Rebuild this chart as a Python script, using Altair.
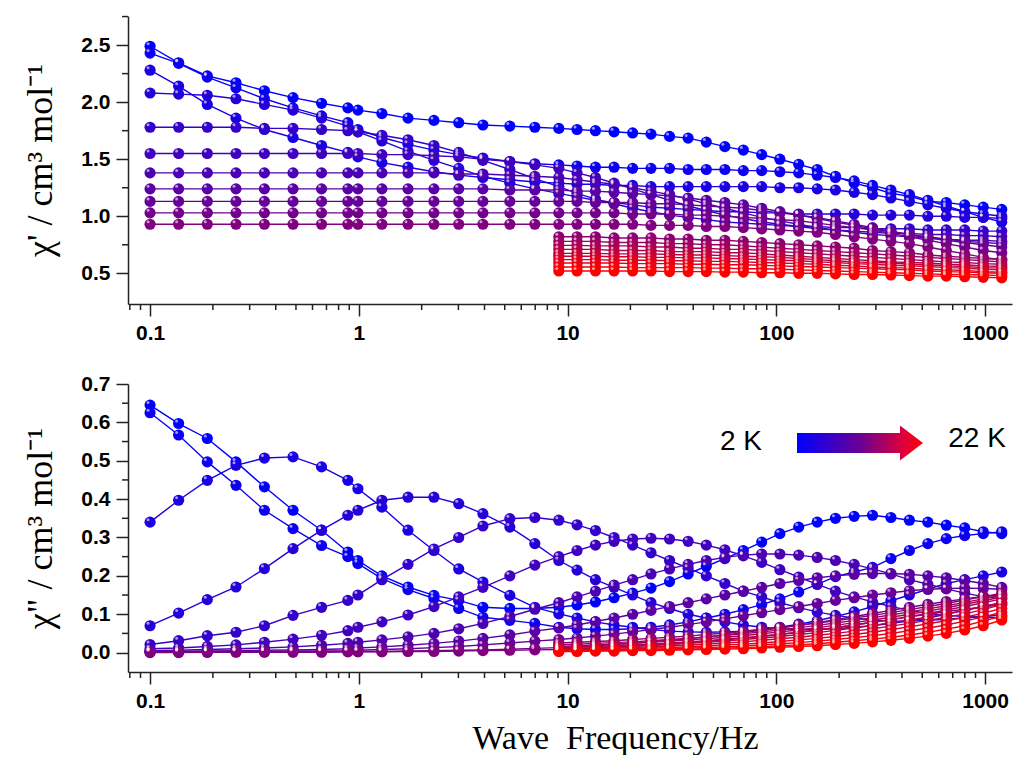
import altair as alt
import pandas as pd

# ---------------- data ----------------
FREQ_ALL = [0.1, 0.137, 0.188, 0.258, 0.353, 0.484, 0.663, 0.886,
            0.99, 1.29, 1.72, 2.29, 3.01, 3.93, 5.29, 6.97,
            9.08, 11.1, 13.6, 16.7, 20.5, 25.1, 30.8, 37.8, 46.2, 56.7,
            69.5, 85.1, 104, 128, 157, 192, 236, 289, 354, 434,
            532, 652, 799, 980, 1202]
FREQ_HIGH = [9.08, 11.1, 13.6, 16.7, 20.5, 25.1, 30.8, 37.8, 46.2, 56.7,
             69.5, 85.1, 104, 128, 157, 192, 236, 289, 354, 434,
             532, 652, 799, 980, 1202]

TEMPS_K = [2, 3, 4, 5, 6, 7, 8, 9, 10, 11, 12, 13, 14, 15, 16, 17, 18, 19, 20, 21, 22]

# chi' (cm3 mol-1)
chi1_02K = [2.49, 2.345, 2.23, 2.17, 2.10, 2.04, 1.99, 1.95,
            1.93, 1.90, 1.86, 1.84, 1.82, 1.80, 1.79, 1.78,
            1.77, 1.76, 1.75, 1.74, 1.73, 1.72, 1.70, 1.685, 1.65, 1.61, 1.58, 1.54, 1.50,
            1.455, 1.41, 1.35, 1.29, 1.25, 1.20, 1.175, 1.13, 1.12, 1.10, 1.08, 1.06]
chi1_03K = [2.43, 2.34, 2.22, 2.125, 2.03, 1.95, 1.88, 1.82,
            1.76, 1.69, 1.63, 1.58, 1.54, 1.51, 1.48, 1.46,
            1.45, 1.44, 1.43, 1.43, 1.42, 1.42, 1.42, 1.41, 1.41, 1.41, 1.40, 1.40, 1.39,
            1.38, 1.36, 1.34, 1.31, 1.27, 1.23, 1.19, 1.14, 1.09, 1.04, 0.99, 0.95]
chi1_04K = [2.28, 2.14, 1.98, 1.86, 1.76, 1.69, 1.62, 1.56,
            1.52, 1.47, 1.43, 1.39, 1.36, 1.34, 1.32, 1.30,
            1.29, 1.28, 1.28, 1.27, 1.27, 1.26, 1.26, 1.26, 1.26, 1.26, 1.26, 1.26, 1.25,
            1.25, 1.24, 1.23, 1.21, 1.19, 1.16, 1.13, 1.10, 1.07, 1.04, 1.02, 1.00]
chi1_05K = [2.08, 2.07, 2.06, 2.03, 1.98, 1.93, 1.86, 1.79,
            1.74, 1.66, 1.57, 1.49, 1.42, 1.35, 1.29, 1.24,
            1.20, 1.17, 1.14, 1.12, 1.10, 1.08, 1.07, 1.06, 1.05, 1.04, 1.04, 1.03, 1.03,
            1.02, 1.02, 1.02, 1.02, 1.01, 1.01, 1.01, 1.00, 1.00, 0.99, 0.99, 0.98]
chi1_06K = [1.78, 1.78, 1.78, 1.78, 1.77, 1.77, 1.76, 1.75,
            1.74, 1.71, 1.67, 1.62, 1.56, 1.49, 1.41, 1.33,
            1.26, 1.20, 1.15, 1.11, 1.07, 1.04, 1.01, 0.99, 0.97, 0.95, 0.94, 0.93, 0.92,
            0.91, 0.91, 0.90, 0.90, 0.89, 0.89, 0.89, 0.88, 0.88, 0.88, 0.87, 0.87]
chi1_07K = [1.55, 1.55, 1.55, 1.55, 1.55, 1.55, 1.55, 1.55,
            1.55, 1.54, 1.54, 1.53, 1.52, 1.50, 1.48, 1.45,
            1.42, 1.38, 1.34, 1.29, 1.24, 1.19, 1.14, 1.09, 1.05, 1.01, 0.98, 0.95, 0.93,
            0.91, 0.89, 0.88, 0.87, 0.86, 0.85, 0.85, 0.84, 0.84, 0.83, 0.83, 0.82]
chi1_08K = [1.38, 1.38, 1.38, 1.38, 1.38, 1.38, 1.38, 1.38,
            1.38, 1.38, 1.38, 1.38, 1.37, 1.37, 1.36, 1.35,
            1.34, 1.32, 1.30, 1.28, 1.25, 1.22, 1.19, 1.15, 1.11, 1.07, 1.03, 0.99, 0.96,
            0.93, 0.90, 0.88, 0.86, 0.84, 0.83, 0.82, 0.81, 0.80, 0.79, 0.79, 0.78]
chi1_09K = [1.24, 1.24, 1.24, 1.24, 1.24, 1.24, 1.24, 1.24,
            1.24, 1.24, 1.24, 1.24, 1.24, 1.24, 1.23, 1.23,
            1.23, 1.22, 1.22, 1.21, 1.20, 1.19, 1.18, 1.16, 1.14, 1.12, 1.10, 1.07, 1.04,
            1.01, 0.98, 0.95, 0.92, 0.89, 0.86, 0.84, 0.82, 0.80, 0.78, 0.77, 0.76]
chi1_10K = [1.13, 1.13, 1.13, 1.13, 1.13, 1.13, 1.13, 1.13,
            1.13, 1.13, 1.13, 1.13, 1.13, 1.13, 1.13, 1.13,
            1.13, 1.13, 1.12, 1.12, 1.12, 1.11, 1.11, 1.10, 1.09, 1.08, 1.07, 1.05, 1.03,
            1.01, 0.99, 0.96, 0.93, 0.90, 0.87, 0.84, 0.81, 0.79, 0.77, 0.75, 0.73]
chi1_11K = [1.03, 1.03, 1.03, 1.03, 1.03, 1.03, 1.03, 1.03,
            1.03, 1.03, 1.03, 1.03, 1.03, 1.03, 1.03, 1.03,
            1.03, 1.03, 1.03, 1.03, 1.02, 1.02, 1.02, 1.01, 1.01, 1.00, 0.99, 0.98, 0.97,
            0.96, 0.94, 0.92, 0.90, 0.88, 0.85, 0.82, 0.79, 0.76, 0.73, 0.70, 0.68]
chi1_12K = [0.93, 0.93, 0.93, 0.93, 0.93, 0.93, 0.93, 0.93,
            0.93, 0.93, 0.93, 0.93, 0.93, 0.93, 0.93, 0.93,
            0.93, 0.93, 0.93, 0.93, 0.93, 0.92, 0.92, 0.92, 0.91, 0.91, 0.90, 0.89, 0.88,
            0.87, 0.86, 0.84, 0.82, 0.80, 0.78, 0.76, 0.73, 0.70, 0.67, 0.64, 0.62]
chi1_13K = [0.82, 0.82, 0.82, 0.81, 0.81, 0.81, 0.80, 0.80, 0.79, 0.79, 0.78, 0.77, 0.76,
            0.75, 0.74, 0.73, 0.72, 0.70, 0.69, 0.68, 0.66, 0.65, 0.64, 0.63, 0.62]
chi1_14K = [0.78, 0.78, 0.78, 0.77, 0.77, 0.77, 0.76, 0.76, 0.75, 0.75, 0.74, 0.73, 0.72,
            0.71, 0.70, 0.69, 0.68, 0.67, 0.66, 0.65, 0.64, 0.63, 0.62, 0.61, 0.60]
chi1_15K = [0.745, 0.745, 0.74, 0.74, 0.74, 0.73, 0.73, 0.72, 0.72, 0.71, 0.71, 0.70, 0.69,
            0.68, 0.67, 0.66, 0.65, 0.64, 0.63, 0.62, 0.61, 0.60, 0.595, 0.585, 0.58]
chi1_16K = [0.71, 0.71, 0.71, 0.70, 0.70, 0.70, 0.69, 0.69, 0.69, 0.68, 0.68, 0.67, 0.66,
            0.65, 0.64, 0.63, 0.62, 0.61, 0.60, 0.595, 0.59, 0.58, 0.575, 0.565, 0.56]
chi1_17K = [0.675, 0.675, 0.675, 0.67, 0.67, 0.67, 0.665, 0.66, 0.66, 0.655, 0.65, 0.645, 0.64,
            0.63, 0.62, 0.61, 0.60, 0.595, 0.59, 0.58, 0.575, 0.565, 0.56, 0.55, 0.545]
chi1_18K = [0.65, 0.65, 0.65, 0.645, 0.645, 0.64, 0.64, 0.635, 0.635, 0.63, 0.625, 0.62, 0.615,
            0.61, 0.60, 0.595, 0.585, 0.58, 0.57, 0.565, 0.56, 0.55, 0.545, 0.535, 0.53]
chi1_19K = [0.62, 0.62, 0.62, 0.615, 0.615, 0.615, 0.61, 0.61, 0.605, 0.605, 0.60, 0.595, 0.59,
            0.585, 0.58, 0.57, 0.565, 0.555, 0.55, 0.545, 0.535, 0.53, 0.525, 0.515, 0.51]
chi1_20K = [0.59, 0.59, 0.59, 0.59, 0.585, 0.585, 0.585, 0.58, 0.58, 0.575, 0.575, 0.57, 0.565,
            0.56, 0.555, 0.55, 0.545, 0.54, 0.535, 0.53, 0.52, 0.515, 0.51, 0.505, 0.50]
chi1_21K = [0.555, 0.555, 0.555, 0.555, 0.55, 0.55, 0.55, 0.55, 0.545, 0.545, 0.54, 0.54, 0.535,
            0.53, 0.525, 0.52, 0.515, 0.51, 0.505, 0.50, 0.495, 0.49, 0.49, 0.485, 0.48]
chi1_22K = [0.52, 0.52, 0.52, 0.52, 0.52, 0.52, 0.515, 0.515, 0.515, 0.51, 0.51, 0.505, 0.505,
            0.50, 0.50, 0.495, 0.49, 0.49, 0.485, 0.48, 0.475, 0.475, 0.47, 0.465, 0.46]

# chi'' (cm3 mol-1)
chi2_02K = [0.645, 0.597, 0.558, 0.497, 0.432, 0.371, 0.319, 0.262,
            0.24, 0.20, 0.171, 0.149, 0.136, 0.118, 0.115, 0.115,
            0.118, 0.124, 0.132, 0.143, 0.155, 0.168, 0.185, 0.205, 0.225, 0.245, 0.266, 0.288, 0.31,
            0.327, 0.34, 0.35, 0.355, 0.358, 0.352, 0.345, 0.34, 0.332, 0.325, 0.315, 0.31]
chi2_03K = [0.625, 0.567, 0.497, 0.436, 0.371, 0.323, 0.279, 0.25,
            0.232, 0.193, 0.164, 0.141, 0.115, 0.092, 0.084, 0.076,
            0.066, 0.062, 0.06, 0.06, 0.062, 0.066, 0.072, 0.08, 0.09, 0.10, 0.112, 0.125, 0.14,
            0.158, 0.178, 0.198, 0.21, 0.222, 0.245, 0.266, 0.284, 0.297, 0.305, 0.31, 0.315]
chi2_04K = [0.34, 0.397, 0.449, 0.488, 0.507, 0.51, 0.484, 0.449,
            0.427, 0.379, 0.319, 0.266, 0.218, 0.184, 0.149, 0.118,
            0.101, 0.09, 0.08, 0.072, 0.066, 0.06, 0.056, 0.054, 0.053, 0.054, 0.056, 0.06, 0.066,
            0.074, 0.083, 0.094, 0.106, 0.12, 0.135, 0.15, 0.165, 0.18, 0.19, 0.2, 0.21]
chi2_05K = [0.07, 0.103, 0.138, 0.171, 0.219, 0.271, 0.319, 0.358,
            0.371, 0.397, 0.405, 0.405, 0.388, 0.362, 0.327, 0.284,
            0.24, 0.215, 0.19, 0.17, 0.15, 0.13, 0.115, 0.10, 0.09, 0.08, 0.072, 0.066, 0.062,
            0.06, 0.06, 0.062, 0.066, 0.07, 0.076, 0.082, 0.09, 0.10, 0.11, 0.12, 0.13]
chi2_06K = [0.021, 0.031, 0.044, 0.053, 0.070, 0.097, 0.118, 0.136,
            0.15, 0.19, 0.23, 0.27, 0.30, 0.33, 0.349, 0.352,
            0.345, 0.333, 0.318, 0.30, 0.28, 0.26, 0.24, 0.22, 0.20, 0.18, 0.16, 0.145, 0.13,
            0.117, 0.106, 0.097, 0.09, 0.085, 0.082, 0.082, 0.084, 0.087, 0.09, 0.094, 0.098]
chi2_07K = [0.01, 0.012, 0.016, 0.02, 0.027, 0.035, 0.045, 0.057,
            0.066, 0.08, 0.098, 0.12, 0.145, 0.17, 0.2, 0.228,
            0.25, 0.266, 0.28, 0.29, 0.296, 0.298, 0.296, 0.29, 0.28, 0.268, 0.252, 0.235, 0.216,
            0.197, 0.178, 0.16, 0.145, 0.132, 0.12, 0.11, 0.102, 0.097, 0.094, 0.092, 0.09]
chi2_08K = [0.005, 0.006, 0.008, 0.01, 0.012, 0.015, 0.019, 0.024,
            0.027, 0.033, 0.041, 0.05, 0.062, 0.076, 0.094, 0.113,
            0.13, 0.145, 0.16, 0.176, 0.19, 0.205, 0.218, 0.23, 0.24, 0.248, 0.254, 0.257, 0.257,
            0.254, 0.248, 0.24, 0.23, 0.218, 0.205, 0.19, 0.178, 0.166, 0.155, 0.146, 0.14]
chi2_09K = [0.003, 0.003, 0.004, 0.005, 0.006, 0.007, 0.008, 0.01,
            0.012, 0.015, 0.019, 0.024, 0.03, 0.037, 0.046, 0.056,
            0.064, 0.072, 0.081, 0.09, 0.1, 0.11, 0.12, 0.13, 0.14, 0.15, 0.16, 0.17, 0.18,
            0.188, 0.195, 0.2, 0.204, 0.206, 0.206, 0.204, 0.2, 0.195, 0.188, 0.18, 0.17]
chi2_10K = [0.002, 0.002, 0.002, 0.003, 0.003, 0.004, 0.004, 0.005,
            0.006, 0.008, 0.01, 0.013, 0.016, 0.02, 0.025, 0.03,
            0.034, 0.038, 0.043, 0.048, 0.054, 0.06, 0.066, 0.073, 0.08, 0.088, 0.096, 0.104, 0.112,
            0.12, 0.128, 0.136, 0.143, 0.15, 0.156, 0.161, 0.165, 0.167, 0.168, 0.167, 0.165]
chi2_11K = [0.001, 0.001, 0.001, 0.002, 0.002, 0.002, 0.002, 0.003,
            0.003, 0.003, 0.004, 0.005, 0.006, 0.007, 0.009, 0.011,
            0.013, 0.015, 0.018, 0.021, 0.024, 0.028, 0.032, 0.036, 0.041, 0.046, 0.052, 0.058, 0.064,
            0.071, 0.078, 0.086, 0.094, 0.102, 0.11, 0.118, 0.126, 0.133, 0.14, 0.146, 0.15]
chi2_12K = [0.0, 0.0, 0.001, 0.001, 0.001, 0.001, 0.001, 0.002,
            0.002, 0.002, 0.003, 0.003, 0.004, 0.005, 0.006, 0.007,
            0.008, 0.01, 0.012, 0.014, 0.016, 0.019, 0.022, 0.025, 0.029, 0.033, 0.037, 0.042, 0.047,
            0.053, 0.059, 0.065, 0.072, 0.079, 0.086, 0.093, 0.1, 0.107, 0.113, 0.119, 0.124]
chi2_13K = [0.025, 0.027, 0.029, 0.031, 0.034, 0.037, 0.04, 0.043, 0.047, 0.051, 0.055, 0.06, 0.065,
            0.071, 0.077, 0.083, 0.09, 0.097, 0.104, 0.112, 0.12, 0.128, 0.137, 0.146, 0.155]
chi2_14K = [0.02, 0.022, 0.024, 0.026, 0.028, 0.031, 0.034, 0.037, 0.041, 0.045, 0.049, 0.054, 0.059,
            0.065, 0.071, 0.077, 0.084, 0.091, 0.098, 0.106, 0.114, 0.122, 0.131, 0.14, 0.15]
chi2_15K = [0.016, 0.018, 0.02, 0.022, 0.024, 0.027, 0.03, 0.033, 0.036, 0.04, 0.044, 0.049, 0.054,
            0.059, 0.065, 0.071, 0.078, 0.085, 0.092, 0.1, 0.108, 0.117, 0.126, 0.135, 0.145]
chi2_16K = [0.013, 0.014, 0.016, 0.018, 0.02, 0.022, 0.025, 0.028, 0.031, 0.035, 0.039, 0.043, 0.048,
            0.053, 0.059, 0.065, 0.072, 0.079, 0.086, 0.094, 0.102, 0.111, 0.12, 0.13, 0.14]
chi2_17K = [0.01, 0.011, 0.013, 0.015, 0.017, 0.019, 0.021, 0.024, 0.027, 0.03, 0.034, 0.038, 0.042,
            0.047, 0.052, 0.058, 0.064, 0.071, 0.078, 0.085, 0.093, 0.101, 0.11, 0.12, 0.13]
chi2_18K = [0.008, 0.009, 0.01, 0.012, 0.013, 0.015, 0.017, 0.019, 0.022, 0.025, 0.028, 0.032, 0.036,
            0.04, 0.045, 0.05, 0.056, 0.062, 0.069, 0.076, 0.084, 0.092, 0.101, 0.112, 0.125]
chi2_19K = [0.006, 0.007, 0.008, 0.009, 0.01, 0.012, 0.013, 0.015, 0.017, 0.02, 0.022, 0.025, 0.029,
            0.033, 0.037, 0.042, 0.047, 0.053, 0.06, 0.067, 0.075, 0.083, 0.092, 0.103, 0.115]
chi2_20K = [0.005, 0.005, 0.006, 0.007, 0.008, 0.009, 0.01, 0.012, 0.013, 0.015, 0.017, 0.02, 0.023,
            0.026, 0.03, 0.034, 0.039, 0.044, 0.05, 0.057, 0.064, 0.072, 0.082, 0.093, 0.105]
chi2_21K = [0.004, 0.004, 0.005, 0.005, 0.006, 0.007, 0.008, 0.009, 0.01, 0.012, 0.013, 0.015, 0.018,
            0.02, 0.023, 0.027, 0.031, 0.035, 0.04, 0.046, 0.053, 0.061, 0.07, 0.082, 0.095]
chi2_22K = [0.003, 0.003, 0.004, 0.004, 0.005, 0.005, 0.006, 0.007, 0.008, 0.009, 0.01, 0.012, 0.014,
            0.016, 0.018, 0.021, 0.024, 0.028, 0.032, 0.037, 0.043, 0.05, 0.059, 0.07, 0.085]

X_MAJOR = [0.1, 1, 10, 100, 1000]
X_MINOR = [0.08, 0.09, 0.2, 0.3, 0.4, 0.5, 0.6, 0.7, 0.8, 0.9, 2, 3, 4, 5, 6, 7, 8, 9,
           20, 30, 40, 50, 60, 70, 80, 90, 200, 300, 400, 500, 600, 700, 800, 900]
Y1_MAJOR = [0.5, 1.0, 1.5, 2.0, 2.5]
Y1_MINOR = [0.75, 1.25, 1.75, 2.25, 2.75]
Y2_MAJOR = [0.0, 0.1, 0.2, 0.3, 0.4, 0.5, 0.6, 0.7]
Y2_MINOR = [0.05, 0.15, 0.25, 0.35, 0.45, 0.55, 0.65]
LEGEND_LEFT = ["2 K"]
LEGEND_RIGHT = ["22 K"]

SERIES = [
    (2, FREQ_ALL, chi1_02K, chi2_02K), (3, FREQ_ALL, chi1_03K, chi2_03K),
    (4, FREQ_ALL, chi1_04K, chi2_04K), (5, FREQ_ALL, chi1_05K, chi2_05K),
    (6, FREQ_ALL, chi1_06K, chi2_06K), (7, FREQ_ALL, chi1_07K, chi2_07K),
    (8, FREQ_ALL, chi1_08K, chi2_08K), (9, FREQ_ALL, chi1_09K, chi2_09K),
    (10, FREQ_ALL, chi1_10K, chi2_10K), (11, FREQ_ALL, chi1_11K, chi2_11K),
    (12, FREQ_ALL, chi1_12K, chi2_12K), (13, FREQ_HIGH, chi1_13K, chi2_13K),
    (14, FREQ_HIGH, chi1_14K, chi2_14K), (15, FREQ_HIGH, chi1_15K, chi2_15K),
    (16, FREQ_HIGH, chi1_16K, chi2_16K), (17, FREQ_HIGH, chi1_17K, chi2_17K),
    (18, FREQ_HIGH, chi1_18K, chi2_18K), (19, FREQ_HIGH, chi1_19K, chi2_19K),
    (20, FREQ_HIGH, chi1_20K, chi2_20K), (21, FREQ_HIGH, chi1_21K, chi2_21K),
    (22, FREQ_HIGH, chi1_22K, chi2_22K),
]

rows = []
for T, fr, c1, c2 in SERIES:
    if not (len(fr) == len(c1) == len(c2)):
        raise ValueError(f"length mismatch at {T} K: {len(fr)} {len(c1)} {len(c2)}")
    for f, a, b in zip(fr, c1, c2):
        rows.append({"T": f"{T:02d} K", "f": f, "chi1": a, "chi2": b})
df = pd.DataFrame(rows)

# ---------------- styles ----------------
names = [f"{T:02d} K" for T in TEMPS_K]
colors = []
n = len(TEMPS_K) - 1
for i in range(len(TEMPS_K)):
    r = round(255 * i / n)
    colors.append("#%02x00%02x" % (r, 255 - r))
cscale = alt.Scale(domain=names, range=colors)

W, H = 884, 288
X_DOMAIN = [0.0784, 1346]
xs = alt.Scale(type="log", domain=X_DOMAIN, nice=False)

SANS = "Liberation Sans"
SERIF = "Liberation Serif"


def panel(ycol, ydom, yvals, yminor, ytitle, xtitle, extra):
    ys = alt.Scale(domain=ydom, nice=False, zero=False)
    xkw = dict(values=X_MAJOR, format="~g", tickSize=12, labelPadding=6, labelFlush=False)
    if xtitle:
        xaxis = alt.Axis(title=xtitle, titleFont=SERIF, titleFontSize=34, titleFontWeight="normal",
                         titleX=487, titleY=76, titleBaseline="alphabetic", titleAlign="center", **xkw)
    else:
        xaxis = alt.Axis(title=None, **xkw)
    yaxis = alt.Axis(values=yvals, format=".1f", tickSize=12, labelPadding=6, title=ytitle,
                     titleFont=SERIF, titleFontSize=36, titleFontWeight="normal", titlePadding=21)
    X = alt.X("f:Q", scale=xs, axis=xaxis)
    Y = alt.Y(f"{ycol}:Q", scale=ys, axis=yaxis)
    base = alt.Chart(df)
    lines = base.mark_line(strokeWidth=1.4).encode(
        x=X, y=Y, color=alt.Color("T:N", scale=cscale, legend=None), detail="T:N")
    pts = base.mark_circle(size=125, opacity=1).encode(
        x=X, y=Y, color=alt.Color("T:N", scale=cscale, legend=None))
    hl = base.mark_circle(size=9, color="white", opacity=0.6, xOffset=-2, yOffset=-2.5).encode(x=X, y=Y)
    xmin = alt.Chart(pd.DataFrame({"f": X_MINOR})).mark_rule(color="#222", strokeWidth=1.5).encode(
        x=X, y=alt.value(H), y2=alt.value(H + 6))
    ymin = alt.Chart(pd.DataFrame({ycol: yminor})).mark_rule(color="#222", strokeWidth=1.5).encode(
        y=Y, x=alt.value(0), x2=alt.value(-6))
    return alt.layer(lines, pts, hl, xmin, ymin, *extra).properties(width=W, height=H)


arrow_path = "M -1 -0.159 L 0.635 -0.159 L 0.635 -0.278 L 1 0 L 0.635 0.278 L 0.635 0.159 L -1 0.159 Z"
grad = {"gradient": "linear", "x1": 0, "y1": 0, "x2": 1, "y2": 0,
        "stops": [{"offset": 0, "color": "#0000ff"}, {"offset": 0.5, "color": "#6a0095"},
                  {"offset": 0.85, "color": "#e0003a"}, {"offset": 1, "color": "#ff0000"}]}
arrow = alt.Chart(pd.DataFrame({"a": [0]})).mark_point(
    shape=arrow_path, size=126 * 126, filled=True, fill=grad, strokeWidth=0, opacity=1
).encode(x=alt.value(732), y=alt.value(59))
lab_l = alt.Chart(pd.DataFrame({"label": LEGEND_LEFT})).mark_text(
    font=SANS, fontSize=28, color="black", align="center", baseline="middle"
).encode(text="label:N", x=alt.value(613), y=alt.value(58))
lab_r = alt.Chart(pd.DataFrame({"label": LEGEND_RIGHT})).mark_text(
    font=SANS, fontSize=28, color="black", align="center", baseline="middle"
).encode(text="label:N", x=alt.value(849), y=alt.value(55))

top = panel("chi1", [0.231, 2.755], Y1_MAJOR, Y1_MINOR, "χ' / cm³ mol⁻¹", None, [])
bottom = panel("chi2", [-0.0506, 0.7], Y2_MAJOR, Y2_MINOR, 'χ" / cm³ mol⁻¹',
               "Wave\u00a0\u00a0Frequency/Hz", [arrow, lab_l, lab_r])

chart = alt.vconcat(top, bottom, spacing=30).properties(
    padding={"left": 22, "top": 15, "right": 3, "bottom": 0},
    background="white",
).configure_view(strokeWidth=0).configure_axis(
    grid=False, domainColor="#222", domainWidth=1.5, tickColor="#222", tickWidth=1.5,
    labelFont=SANS, labelFontWeight="bold", labelFontSize=21, labelColor="black",
    titleColor="black",
)

chart.save("out.html", embed_options={"renderer": "svg", "actions": False})
